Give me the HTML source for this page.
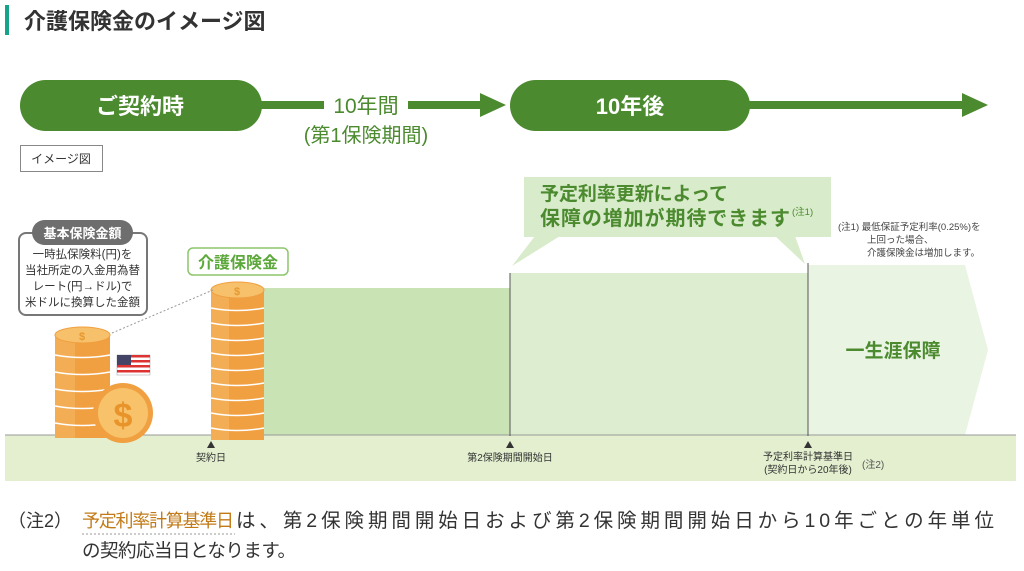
<!DOCTYPE html>
<html><head><meta charset="utf-8"><style>
html,body{margin:0;padding:0;background:#fff;width:1024px;height:571px;overflow:hidden}
svg{display:block}
text{font-family:"Liberation Sans","Noto Sans CJK JP",sans-serif}
</style></head><body>
<svg width="1024" height="571" viewBox="0 0 1024 571" xmlns="http://www.w3.org/2000/svg">
<rect x="5" y="5" width="4" height="30" fill="#17a38a"/>
<text x="24" y="29" font-size="22" font-weight="bold" fill="#333">介護保険金のイメージ図</text>

<rect x="20" y="80" width="242" height="51" rx="25.5" fill="#4b8a2e"/>
<text x="140" y="114" font-size="22" font-weight="bold" fill="#fff" text-anchor="middle">ご契約時</text>
<rect x="255" y="101" width="230" height="8" fill="#4b8a2e"/>
<polygon points="480,93 506,105 480,117" fill="#4b8a2e"/>
<rect x="324" y="92" width="84" height="26" fill="#fff"/>
<text x="366" y="113" font-size="21" fill="#4b8a2e" text-anchor="middle">10年間</text>
<text x="366" y="142" font-size="20" fill="#4b8a2e" text-anchor="middle">(第1保険期間)</text>

<rect x="510" y="80" width="240" height="51" rx="25.5" fill="#4b8a2e"/>
<text x="630" y="114" font-size="22" font-weight="bold" fill="#fff" text-anchor="middle">10年後</text>
<rect x="745" y="101" width="220" height="8" fill="#4b8a2e"/>
<polygon points="962,93 988,105 962,117" fill="#4b8a2e"/>

<rect x="20.5" y="145.5" width="82" height="26" fill="#fff" stroke="#888"/>
<text x="61" y="163" font-size="12" fill="#333" text-anchor="middle">イメージ図</text>

<rect x="5" y="435" width="1011" height="46" fill="#e3efcf"/>
<rect x="263" y="288" width="247" height="147" fill="#c9e3b5"/>
<rect x="510" y="273" width="298" height="162" fill="#dcedd0"/>
<polygon points="808,265 965,265 988,350 965,435 808,435" fill="#e9f4e2"/>
<line x1="5" y1="435" x2="1016" y2="435" stroke="#999" stroke-width="1"/>
<line x1="510" y1="273" x2="510" y2="436" stroke="#555" stroke-width="1"/>
<line x1="808" y1="263" x2="808" y2="436" stroke="#555" stroke-width="1"/>
<text x="893" y="357" font-size="19" font-weight="bold" fill="#4b8a2e" text-anchor="middle">一生涯保障</text>

<rect x="524" y="177" width="307" height="60" fill="#d8ebca"/>
<polygon points="535,236 560,236 512,266" fill="#d8ebca"/>
<polygon points="775,236 795,236 805,264" fill="#d8ebca"/>
<text x="540" y="200" font-size="19" font-weight="bold" fill="#4b8a2e" textLength="188" lengthAdjust="spacing">予定利率更新によって</text>
<text x="540" y="225" font-size="20" font-weight="bold" fill="#4b8a2e" textLength="250" lengthAdjust="spacing">保障の増加が期待できます</text>
<text x="792" y="215" font-size="9.5" fill="#4b8a2e">(注1)</text>

<text x="838" y="230" font-size="9.5" fill="#444">(注1) 最低保証予定利率(0.25%)を</text>
<text x="867" y="243" font-size="9.5" fill="#444">上回った場合、</text>
<text x="867" y="256" font-size="9.5" fill="#444">介護保険金は増加します。</text>

<polygon points="211,441 207,448 215,448" fill="#333"/>
<text x="211" y="461" font-size="10" fill="#333" text-anchor="middle">契約日</text>
<polygon points="510,441 506,448 514,448" fill="#333"/>
<text x="510" y="461" font-size="10" fill="#333" text-anchor="middle">第2保険期間開始日</text>
<polygon points="808,441 804,448 812,448" fill="#333"/>
<text x="808" y="460" font-size="10" fill="#333" text-anchor="middle">予定利率計算基準日</text>
<text x="808" y="473" font-size="10" fill="#333" text-anchor="middle">(契約日から20年後)</text>
<text x="862" y="468" font-size="10" fill="#555">(注2)</text>

<g>
<rect x="55" y="335" width="55" height="103" fill="#f0a040"/>
<rect x="55" y="335" width="20" height="103" fill="#f3ae55"/>
<g stroke="#fff" stroke-width="1.5" fill="none">
<path d="M55 355 Q82 360 110 355"/><path d="M55 372 Q82 377 110 372"/><path d="M55 389 Q82 394 110 389"/><path d="M55 406 Q82 411 110 406"/><path d="M55 423 Q82 428 110 423"/>
</g>
<ellipse cx="82.5" cy="335" rx="27.5" ry="8" fill="#f7c06a" stroke="#f0a040"/>
<text x="82" y="340" font-size="11" font-weight="bold" fill="#e59a30" text-anchor="middle">$</text>
</g>
<circle cx="123" cy="413" r="30" fill="#f0a040"/>
<circle cx="123" cy="413" r="25" fill="#f7c26a"/>
<text x="123" y="427" font-size="34" font-weight="bold" fill="#e8942a" text-anchor="middle">$</text>
<rect x="117" y="355" width="33" height="20" fill="#fff" stroke="#999" stroke-width="0.5"/>
<g fill="#d33"><rect x="117" y="355" width="33" height="2.5"/><rect x="117" y="360" width="33" height="2.5"/><rect x="117" y="365" width="33" height="2.5"/><rect x="117" y="370" width="33" height="2.5"/></g>
<rect x="117" y="355" width="14" height="10" fill="#446"/>

<rect x="211" y="290" width="53" height="150" fill="#f0a040"/>
<rect x="211" y="290" width="18" height="150" fill="#f3ae55"/>
<g stroke="#fff" stroke-width="1.5" fill="none">
<path d="M211 308 Q237 313 264 308"/><path d="M211 323 Q237 328 264 323"/><path d="M211 338 Q237 343 264 338"/><path d="M211 353 Q237 358 264 353"/><path d="M211 368 Q237 373 264 368"/><path d="M211 383 Q237 388 264 383"/><path d="M211 398 Q237 403 264 398"/><path d="M211 413 Q237 418 264 413"/><path d="M211 428 Q237 433 264 428"/>
</g>
<ellipse cx="237.5" cy="290" rx="26.5" ry="8" fill="#f7c06a" stroke="#f0a040"/>
<text x="237" y="295" font-size="11" font-weight="bold" fill="#e59a30" text-anchor="middle">$</text>
<line x1="112" y1="333" x2="213" y2="290" stroke="#999" stroke-dasharray="2,2"/>

<rect x="19" y="233" width="128" height="82" rx="7" fill="#fff" stroke="#777" stroke-width="2"/>
<rect x="32" y="220" width="101" height="25" rx="12.5" fill="#6e6e6e"/>
<text x="82.5" y="238" font-size="13" font-weight="bold" fill="#fff" text-anchor="middle">基本保険金額</text>
<text x="82.5" y="258" font-size="11.5" fill="#333" text-anchor="middle">一時払保険料(円)を</text>
<text x="82.5" y="274" font-size="11.5" fill="#333" text-anchor="middle">当社所定の入金用為替</text>
<text x="82.5" y="290" font-size="11.5" fill="#333" text-anchor="middle">レート(円→ドル)で</text>
<text x="82.5" y="306" font-size="11.5" fill="#333" text-anchor="middle">米ドルに換算した金額</text>

<rect x="188" y="248" width="100" height="27" rx="5" fill="#fff" stroke="#8cc66a" stroke-width="1.5"/>
<text x="238" y="268" font-size="16" font-weight="bold" fill="#5ca83a" text-anchor="middle">介護保険金</text>

<text x="8" y="527" font-size="18" fill="#333">（注2）</text>
<text x="82" y="527" font-size="18" fill="#c27a16" textLength="152" lengthAdjust="spacing">予定利率計算基準日</text>
<line x1="82" y1="534" x2="235" y2="534" stroke="#999" stroke-dasharray="2,2"/>
<text x="236" y="527" font-size="19.5" fill="#333" textLength="758" lengthAdjust="spacing">は、第2保険期間開始日および第2保険期間開始日から10年ごとの年単位</text>
<text x="82" y="557" font-size="18.5" fill="#333" textLength="214" lengthAdjust="spacing">の契約応当日となります。</text>
</svg>
</body></html>
